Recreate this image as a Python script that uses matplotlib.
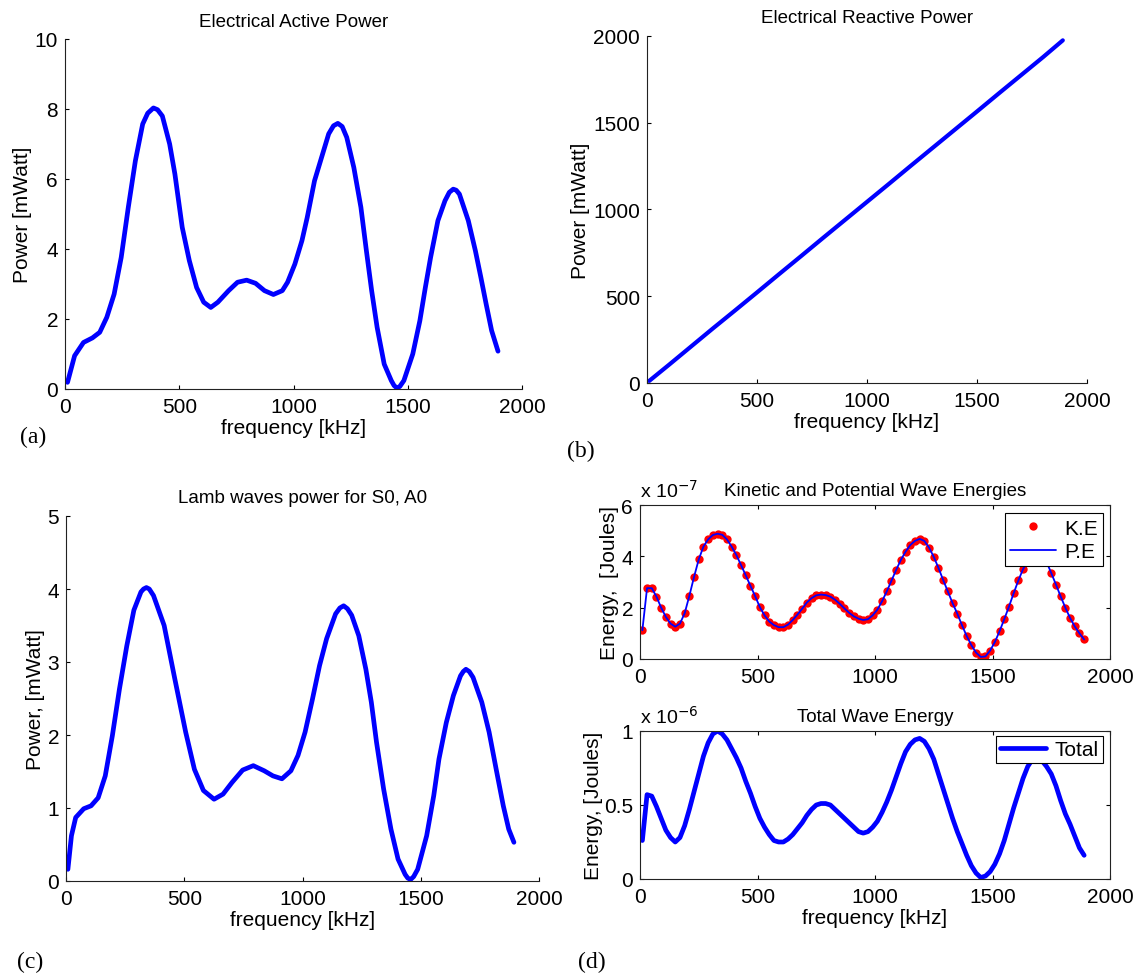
import numpy as np
import matplotlib
matplotlib.use('Agg')
import matplotlib.pyplot as plt

plt.rcParams['font.family'] = ['Liberation Sans', 'DejaVu Sans']
plt.rcParams['font.size'] = 15

BLUE = '#0000ff'
RED = '#ff0000'

# ---------------- data ---------------- #
# (a) electrical active power [mWatt]
freq_a = [11, 42, 81, 120, 152, 183, 215, 246, 277, 308, 340, 362, 387, 405, 426,
          458, 481, 513, 544, 576, 607, 638, 669, 716, 755, 795, 834, 873, 912,
          951, 974, 1006, 1037, 1060, 1092, 1123, 1154, 1175, 1194, 1213, 1233,
          1264, 1295, 1319, 1342, 1366, 1397, 1428, 1440, 1452, 1465, 1483, 1522,
          1553, 1577, 1600, 1632, 1663, 1682, 1699, 1712, 1726, 1765, 1796, 1820,
          1843, 1867, 1895]
p_active = [0.19, 0.95, 1.33, 1.46, 1.62, 2.05, 2.71, 3.76, 5.19, 6.52, 7.57, 7.88,
            8.03, 7.98, 7.80, 7.00, 6.14, 4.62, 3.67, 2.90, 2.48, 2.33, 2.48, 2.81,
            3.05, 3.11, 3.02, 2.81, 2.70, 2.81, 3.05, 3.57, 4.24, 4.90, 5.95, 6.62,
            7.29, 7.52, 7.59, 7.50, 7.19, 6.33, 5.19, 3.95, 2.81, 1.76, 0.71, 0.24,
            0.10, 0.03, 0.07, 0.24, 1.00, 1.95, 2.90, 3.76, 4.81, 5.38, 5.62, 5.71,
            5.68, 5.57, 4.81, 3.95, 3.19, 2.43, 1.67, 1.08]

# (b) electrical reactive power [mWatt]
freq_b = [10, 100, 200, 300, 400, 500, 600, 700, 800, 900, 1000, 1100, 1200, 1300,
          1400, 1500, 1600, 1700, 1800, 1890]
p_reactive = [12, 105, 210, 315, 418, 522, 627, 731, 836, 940, 1044, 1148, 1253,
              1357, 1461, 1565, 1670, 1774, 1878, 1975]

# (c) lamb waves power for S0, A0 [mWatt]
freq_c = [8, 23, 41, 75, 106, 136, 166, 196, 226, 257, 287, 317, 328, 340, 352, 370,
          415, 460, 506, 543, 581, 626, 664, 702, 747, 792, 838, 875, 913, 951,
          981, 1011, 1042, 1072, 1102, 1140, 1158, 1174, 1190, 1208, 1238, 1268,
          1291, 1313, 1343, 1374, 1404, 1434, 1445, 1457, 1470, 1487, 1525, 1555,
          1577, 1608, 1638, 1668, 1680, 1691, 1705, 1721, 1758, 1789, 1819, 1849,
          1872, 1894]
p_lamb = [0.16, 0.62, 0.87, 0.99, 1.03, 1.14, 1.44, 1.99, 2.63, 3.22, 3.71, 3.96,
          4.00, 4.02, 4.00, 3.91, 3.50, 2.77, 2.04, 1.53, 1.24, 1.12, 1.19, 1.35,
          1.52, 1.58, 1.51, 1.44, 1.40, 1.51, 1.72, 2.04, 2.49, 2.95, 3.32, 3.66,
          3.74, 3.77, 3.73, 3.64, 3.36, 2.90, 2.45, 1.90, 1.26, 0.71, 0.30, 0.09,
          0.04, 0.02, 0.06, 0.16, 0.62, 1.17, 1.67, 2.17, 2.54, 2.81, 2.87, 2.90,
          2.87, 2.79, 2.45, 2.04, 1.53, 1.03, 0.71, 0.53]

# (d) wave energies, every 20 kHz
freq_d = list(range(10, 1891, 20))
# kinetic energy [x 1e-7 J]
ke = [1.12, 2.76, 2.76, 2.43, 2.00, 1.64, 1.38, 1.26, 1.38, 1.78,
      2.46, 3.20, 3.88, 4.38, 4.66, 4.83, 4.88, 4.84, 4.66, 4.38,
      4.05, 3.66, 3.26, 2.85, 2.45, 2.02, 1.70, 1.46, 1.32, 1.24,
      1.24, 1.34, 1.52, 1.73, 1.96, 2.20, 2.37, 2.48, 2.51, 2.49,
      2.43, 2.31, 2.15, 1.97, 1.80, 1.66, 1.57, 1.52, 1.55, 1.70,
      1.92, 2.25, 2.63, 3.05, 3.47, 3.86, 4.18, 4.44, 4.60, 4.68,
      4.60, 4.34, 3.98, 3.55, 3.08, 2.63, 2.18, 1.77, 1.32, 0.90,
      0.54, 0.25, 0.08, 0.10, 0.33, 0.66, 1.08, 1.55, 2.04, 2.56,
      3.06, 3.50, 3.82, 4.02, 4.10, 4.02, 3.78, 3.35, 2.90, 2.44,
      2.00, 1.60, 1.27, 1.00, 0.76]
# potential energy coincides with the kinetic one in the figure
pe = list(ke)
# total wave energy [x 1e-6 J]
total = [0.26, 0.57, 0.56, 0.49, 0.41, 0.33, 0.28, 0.25, 0.28, 0.36,
         0.47, 0.59, 0.71, 0.83, 0.92, 0.98, 1.00, 0.98, 0.94, 0.88,
         0.82, 0.75, 0.66, 0.58, 0.49, 0.41, 0.35, 0.30, 0.26, 0.25,
         0.25, 0.27, 0.30, 0.34, 0.38, 0.43, 0.47, 0.50, 0.51, 0.51,
         0.50, 0.47, 0.44, 0.41, 0.38, 0.35, 0.32, 0.31, 0.32, 0.35,
         0.39, 0.45, 0.52, 0.60, 0.69, 0.78, 0.86, 0.91, 0.94, 0.95,
         0.93, 0.88, 0.81, 0.71, 0.61, 0.51, 0.41, 0.32, 0.24, 0.16,
         0.09, 0.04, 0.01, 0.02, 0.05, 0.10, 0.17, 0.26, 0.37, 0.48,
         0.58, 0.68, 0.76, 0.81, 0.82, 0.80, 0.76, 0.71, 0.63, 0.53,
         0.44, 0.37, 0.29, 0.21, 0.16]

W, H = 1138, 978
fig = plt.figure(figsize=(W / 100, H / 100), dpi=100)


def px_axes(l, t, r, b):
    # axes from pixel box (left, top, right, bottom)
    return fig.add_axes([l / W, 1 - b / H, (r - l) / W, (b - t) / H])


def matlab_style(ax, box=False):
    for s in ax.spines.values():
        s.set_linewidth(0.8)
        s.set_color('#222222')
    if not box:
        ax.spines['top'].set_visible(False)
        ax.spines['right'].set_visible(False)
    else:
        ax.tick_params(top=True, right=True)
    ax.tick_params(direction='in', length=3, width=0.8)
    ax.tick_params(axis='x', pad=6)
    ax.tick_params(axis='y', pad=5)
    ax.set_xlim(0, 2000)
    ax.set_xticks([0, 500, 1000, 1500, 2000])


def panel_tag(x, y, s):
    fig.text(x / W, 1 - y / H, s, family='Liberation Serif', fontsize=17,
             ha='center', va='center')


line_kw = dict(color=BLUE, solid_joinstyle='round', solid_capstyle='round')

# (a)
ax1 = px_axes(65, 40, 522, 390)
ax1.plot(freq_a, p_active, lw=3.4, **line_kw)
matlab_style(ax1)
ax1.set_ylim(0, 10)
ax1.set_yticks([0, 2, 4, 6, 8, 10])
ax1.set_title('Electrical Active Power', fontsize=13.5, pad=9)
ax1.set_xlabel('frequency [kHz]', labelpad=1)
ax1.set_ylabel('Power [mWatt]', labelpad=2)
panel_tag(33, 437, '(a)')

# (b)
ax2 = px_axes(647, 37, 1087, 384)
ax2.plot(freq_b, p_reactive, lw=3, **line_kw)
matlab_style(ax2)
ax2.set_ylim(0, 2000)
ax2.set_yticks([0, 500, 1000, 1500, 2000])
ax2.set_title('Electrical Reactive Power', fontsize=13.5, pad=10)
ax2.set_xlabel('frequency [kHz]', labelpad=1)
ax2.set_ylabel('Power [mWatt]', labelpad=2)
panel_tag(581, 451, '(b)')

# (c)
ax3 = px_axes(66, 517, 539, 882)
ax3.plot(freq_c, p_lamb, lw=3.4, **line_kw)
matlab_style(ax3)
ax3.set_ylim(0, 5)
ax3.set_yticks([0, 1, 2, 3, 4, 5])
ax3.set_title('Lamb waves power for S0, A0', fontsize=13.5, pad=10)
ax3.set_xlabel('frequency [kHz]', labelpad=1)
ax3.set_ylabel('Power, [mWatt]', labelpad=2)
panel_tag(30, 962, '(c)')

# (d) top
ax4 = px_axes(640, 506, 1110, 660)
ax4.plot(freq_d, ke, 'o', color=RED, ms=6, mec='none', label='K.E')
ax4.plot(freq_d, pe, '-', lw=1.3, label='P.E', **line_kw)
matlab_style(ax4, box=True)
ax4.set_ylim(0, 6)
ax4.set_yticks([0, 2, 4, 6])
ax4.set_title('Kinetic and Potential Wave Energies', fontsize=13.5, pad=7)
ax4.set_ylabel('Energy,  [Joules]', labelpad=2)
ax4.text(0, 1.03, r'x 10$^{-7}$', transform=ax4.transAxes, fontsize=14,
         ha='left', va='bottom')
leg4 = ax4.legend(loc='upper right', bbox_to_anchor=(0.985, 0.945), fancybox=False,
                  framealpha=1, edgecolor='black', borderpad=0.25, handlelength=2.2,
                  labelspacing=0.2, handletextpad=0.4, borderaxespad=0, fontsize=15)
leg4.get_frame().set_linewidth(0.8)

# (d) bottom
ax5 = px_axes(640, 732, 1110, 880)
ax5.plot(freq_d, total, lw=3.4, label='Total', **line_kw)
matlab_style(ax5, box=True)
ax5.set_ylim(0, 1)
ax5.set_yticks([0, 0.5, 1])
ax5.set_yticklabels(['0', '0.5', '1'])
ax5.set_title('Total Wave Energy', fontsize=13.5, pad=7)
ax5.set_xlabel('frequency [kHz]', labelpad=1)
ax5.set_ylabel('Energy, [Joules]', labelpad=1)
ax5.text(0, 1.03, r'x 10$^{-6}$', transform=ax5.transAxes, fontsize=14,
         ha='left', va='bottom')
leg5 = ax5.legend(loc='upper right', bbox_to_anchor=(0.985, 0.966), fancybox=False,
                  framealpha=1, edgecolor='black', borderpad=0.2, handlelength=2.2,
                  handletextpad=0.4, borderaxespad=0, fontsize=15)
leg5.get_frame().set_linewidth(0.8)
panel_tag(592, 962, '(d)')

fig.savefig('out.png', dpi=100, facecolor='white')
